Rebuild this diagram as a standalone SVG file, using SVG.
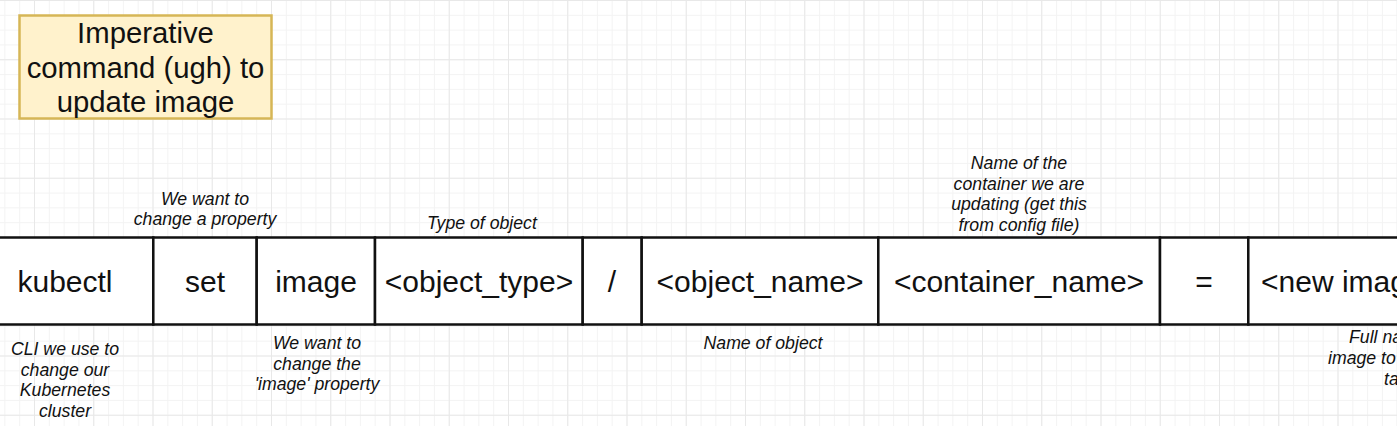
<svg xmlns="http://www.w3.org/2000/svg" width="1397" height="426" viewBox="0 0 1397 426">
<defs>
<pattern id="minor" width="14.8125" height="14.8125" patternUnits="userSpaceOnUse" x="34" y="0">
<path d="M0 0.5 H14.8125 M0.5 0 V14.8125" fill="none" stroke="#f3f3f3" stroke-width="1"/>
</pattern>
<pattern id="major" width="59.25" height="59.25" patternUnits="userSpaceOnUse" x="34" y="0">
<path d="M0 0.5 H59.25 M0.5 0 V59.25" fill="none" stroke="#e8e8e8" stroke-width="1"/>
</pattern>
</defs>
<style>
.main{font-family:"Liberation Sans",Arial,sans-serif;font-size:30px;fill:#111;text-anchor:middle}
.note{font-family:"Liberation Sans",Arial,sans-serif;font-size:17.7px;font-style:italic;fill:#111;text-anchor:middle}
.title{font-family:"Liberation Sans",Arial,sans-serif;font-size:29.3px;fill:#111;text-anchor:middle}
.cell{fill:#fff;stroke:#111;stroke-width:2.5}
</style>
<rect width="1397" height="426" fill="#fff"/>
<rect width="1397" height="426" fill="url(#minor)"/>
<rect width="1397" height="426" fill="url(#major)"/>

<g id="title">
<rect x="19.5" y="15.5" width="252" height="103" fill="#fff2cc" stroke="#d6b656" stroke-width="2.5"/>
<text class="title" x="145.5" y="43">Imperative</text>
<text class="title" x="145.5" y="78">command (ugh) to</text>
<text class="title" x="145.5" y="112">update image</text>
</g>

<g id="kubectl">
<rect class="cell" x="-30" y="237.5" width="183.3" height="87"/>
<text class="main" x="65" y="292">kubectl</text>
</g>
<g id="set">
<rect class="cell" x="153.3" y="237.5" width="103.4" height="87"/>
<text class="main" x="205" y="292">set</text>
</g>
<g id="image">
<rect class="cell" x="256.7" y="237.5" width="118.3" height="87"/>
<text class="main" x="316" y="292">image</text>
</g>
<g id="object_type">
<rect class="cell" x="375" y="237.5" width="207.7" height="87"/>
<text class="main" x="479" y="292">&lt;object_type&gt;</text>
</g>
<g id="slash">
<rect class="cell" x="582.7" y="237.5" width="59" height="87"/>
<text class="main" x="612" y="292">/</text>
</g>
<g id="object_name">
<rect class="cell" x="641.7" y="237.5" width="236.6" height="87"/>
<text class="main" x="760" y="292">&lt;object_name&gt;</text>
</g>
<g id="container_name">
<rect class="cell" x="878.3" y="237.5" width="281.7" height="87"/>
<text class="main" x="1019" y="292">&lt;container_name&gt;</text>
</g>
<g id="equals">
<rect class="cell" x="1160" y="237.5" width="88.3" height="87"/>
<text class="main" x="1204" y="292">=</text>
</g>
<g id="new_image">
<rect class="cell" x="1248.3" y="237.5" width="200" height="87"/>
<text class="main" x="1261" y="292" style="text-anchor:start">&lt;new image&gt;</text>
</g>

<g id="notes">
<text class="note" x="205" y="205">We want to</text>
<text class="note" x="205" y="225">change a property</text>
<text class="note" x="482" y="229">Type of object</text>
<text class="note" x="1019" y="169">Name of the</text>
<text class="note" x="1019" y="189.5">container we are</text>
<text class="note" x="1019" y="210">updating (get this</text>
<text class="note" x="1019" y="230.5">from config file)</text>
<text class="note" x="65" y="355">CLI we use to</text>
<text class="note" x="65" y="375.5">change our</text>
<text class="note" x="65" y="396">Kubernetes</text>
<text class="note" x="65" y="416.5">cluster</text>
<text class="note" x="317" y="349">We want to</text>
<text class="note" x="317" y="369.5">change the</text>
<text class="note" x="317" y="390">'image' property</text>
<text class="note" x="763" y="349">Name of object</text>
<text class="note" x="1349" y="343" style="text-anchor:start">Full name of</text>
<text class="note" x="1328" y="364" style="text-anchor:start">image to use</text>
<text class="note" x="1384" y="385" style="text-anchor:start">tag</text>
</g>
<g id="connectors"/>
</svg>
